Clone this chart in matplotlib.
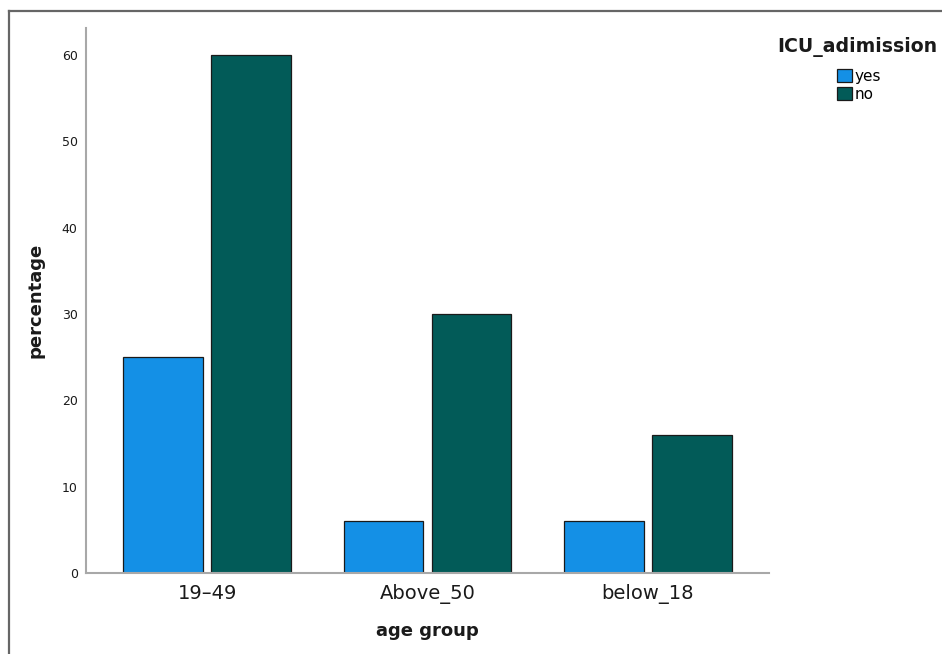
import matplotlib
matplotlib.use("Agg")
import matplotlib.pyplot as plt
import numpy as np
from matplotlib.lines import Line2D

categories = ["19\u201349", "Above_50", "below_18"]
yes_vals = [25, 6, 6]
no_vals = [60, 30, 16]
series_names = ["yes", "no"]
yticks = [0, 10, 20, 30, 40, 50, 60]

plt.rcParams['font.family'] = ['DejaVu Sans']

fig = plt.figure(figsize=(9.42, 6.54), dpi=100)
ax = fig.add_axes([86/942, 1-573/654, (769-86)/942, (573-28)/654])

x = np.arange(len(categories))
w = 0.362
off = 0.2
ax.bar(x - off, yes_vals, width=w, color="#1490e6", edgecolor="#1a1a1a", linewidth=0.9, label=series_names[0])
ax.bar(x + off, no_vals, width=w, color="#025b58", edgecolor="#1a1a1a", linewidth=0.9, label=series_names[1])

ax.set_xlim(-0.55, 2.55)
ax.set_ylim(0, 63.1)
ax.set_xticks(x)
ax.set_xticklabels(categories, fontsize=14, color="#1a1a1a")
ax.set_yticks(yticks)
ax.set_yticklabels([str(v) for v in yticks], fontsize=9, color="#1a1a1a")
ax.tick_params(axis='both', length=0)
ax.tick_params(axis='y', pad=6)
ax.tick_params(axis='x', pad=8)
for s in ["top", "right"]:
    ax.spines[s].set_visible(False)
for s in ["left", "bottom"]:
    ax.spines[s].set_color("#a8a8a8")
    ax.spines[s].set_linewidth(1.5)

ax.set_xlabel("age group", fontsize=13, fontweight="bold", color="#1a1a1a")
ax.xaxis.set_label_coords(0.5, -(622-573)/545)
ax.set_ylabel("percentage", fontsize=13, fontweight="bold", color="#1a1a1a")
ax.yaxis.set_label_coords(-(86-44)/683, (573-300)/545)

fig.text(857/942, 1-47/654, "ICU_adimission", ha="center", va="center",
         fontsize=13.6, fontweight="bold", color="#1a1a1a")
leg = fig.legend(loc="upper center", bbox_to_anchor=(859/942, 1-61/654),
                 frameon=False, fontsize=11,
                 handlelength=1.0, handleheight=1.0, handletextpad=0.15,
                 labelspacing=0.2, borderpad=0)

# outer frame
fig.add_artist(Line2D([8.5/942, 8.5/942], [0, 1-11/654], transform=fig.transFigure, color="#666666", linewidth=1.6))
fig.add_artist(Line2D([8.5/942, 1], [1-11/654, 1-11/654], transform=fig.transFigure, color="#666666", linewidth=1.6))

fig.savefig("out.png", dpi=100)
